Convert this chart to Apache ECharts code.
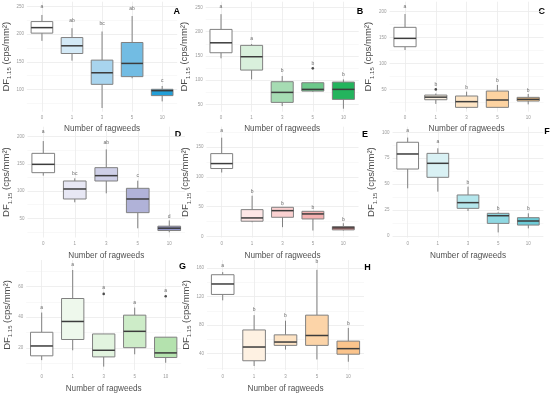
<!DOCTYPE html>
<html><head><meta charset="utf-8">
<script src="https://cdn.jsdelivr.net/npm/echarts@6/dist/echarts.min.js"></script>
<style>html,body{margin:0;padding:0;background:#fff}#c{width:550px;height:394px}</style>
</head><body><div id="c"></div>
<script>
// ---------- DATA ----------
const categories = ['0', '1', '3', '5', '10'];
const panelIds = ['A', 'B', 'C', 'D', 'E', 'F', 'G', 'H'];
// each box: [min, Q1, median, Q3, max]
const boxesA = [[188,202,212,223,235],[152,165,179,194,211],[66,109,130,153,205],[120,123,147,185,233],[78,88.5,97.5,100,106]];
const boxesB = [[145,156.5,177,204.6,236],[101.6,120.8,148.3,171.7,174.4],[46.6,54.2,74.8,96.8,108.4],[76.1,77.5,81,94.7,95.4],[41.2,60.4,81,96.1,101.6]];
const boxesC = [[126,132.4,148.5,169.8,195.5],[22,30,35,39,42],[13.4,15.3,26.3,37.2,45.6],[15.3,15.3,29.5,46.8,58.4],[21.1,27.5,30.8,34.6,41.1]];
const boxesD = [[128.4,133.9,149.2,169.4,192],[79.4,85.5,103.9,118.6,123.5],[95.9,118.6,128.4,143.1,176.7],[31.6,60.4,85.5,105.1,119.2],[24.3,27.5,31.8,35.5,46.1]];
const boxesE = [[107.2,113.9,122.2,138.9,165.6],[23.9,25.6,31.1,45,68.3],[15.6,32.2,43.3,48.9,48.9],[10,29.4,37.8,42.2,42.2],[10,11.1,14.4,16.7,22.2]];
const boxesF = [[46,64.6,79.1,90.4,94.9],[42.8,56.6,70.1,79.7,84.6],[24.1,26.7,32.2,39.6,47.6],[3.5,12.2,19.6,21.9,22.8],[7.4,10.6,14.5,17.7,21.9]];
const boxesG = [[12.1,14.9,21.3,30.2,43],[18.5,25.5,37.2,52.1,70.6],[7.9,14.2,18.5,29.1,29.1],[15.9,20.2,30.8,41.3,46.2],[10.4,13.8,16.8,27,27]];
const boxesH = [[114.8,123.1,137.8,150.8,154.5],[22.5,29.9,49.2,73.2,94],[45.6,51.5,56.2,66.3,86.2],[31.7,51.5,65.4,94,157.7],[28.5,39.1,46.9,57.5,76]];

const lettersA = ['a','ab','bc','ab','c'];
const lettersB = ['a','a','b','b','b'];
const lettersC = ['a','b','b','b','b'];
const lettersD = ['a','bc','ab','c','d'];
const lettersE = ['a','b','b','b','b'];
const lettersF = ['a','a','b','b','b'];
const lettersG = ['a','a','a','a','a'];
const lettersH = ['a','b','b','b','b'];

const letterYA = [250, 224.6, 219.8, 247, 115];
const letterYB = [251.4, 186, 118.8, 134.6, 110.5];
const letterYC = [209.7, 58.4, 53.9, 66.2, 46.8];
const letterYD = [209.2, 132.7, 189.6, 128.4, 53];
const letterYE = [177.8, 75.6, 55.6, 48.9, 27.8];
const letterYF = [101.6, 91, 51.8, 26, 26];
const letterYG = [46.2, 73.8, 58.9, 49.4, 57.2];
const letterYH = [163.7, 101.4, 93.1, 169.2, 82.5];

// outliers: [category index, value]
const outliersA = [];
const outliersB = [[3, 124.3]];
const outliersC = [[1, 50]];
const outliersD = [];
const outliersE = [];
const outliersF = [];
const outliersG = [[2, 55.1], [4, 53.6]];
const outliersH = [];

const ticksA = [100, 150, 200, 250];
const ticksB = [50, 100, 150, 200, 250];
const ticksC = [50, 100, 150, 200];
const ticksD = [50, 100, 150, 200];
const ticksE = [0, 50, 100, 150];
const ticksF = [0, 25, 50, 75, 100];
const ticksG = [20, 40, 60];
const ticksH = [40, 80, 120, 160];

// ---------- STYLE / LAYOUT ----------
const colorsA = ['#ffffff','#d3e9f6','#a8d4ee','#72bce3','#229fd8'];
const colorsB = ['#ffffff','#d9f0dc','#a6dcb3','#6dc98b','#23b45d'];
const colorsC = ['#ffffff','#fdf2e2','#fde4c4','#fdd3a1','#fbc88a'];
const colorsD = ['#ffffff','#e7e7f4','#cfd0e8','#b0b2d8','#9093c6'];
const colorsE = ['#ffffff','#fde6e6','#fbd1d1','#f5b1b1','#ec8f90'];
const colorsF = ['#ffffff','#d9f1f4','#b4e6ec','#8fd8e2','#6ccbd7'];
const colorsG = ['#ffffff','#eef8ec','#e2f4df','#cdecc8','#b4e2ae'];
const colorsH = ['#ffffff','#fef1e2','#fde3c4','#fcd4a8','#fbc48c'];

const layout = {
  A: {left: 25.5, width: 151.7, top: 1.7, height: 110, yMin: 59.3, yMax: 259.1, yGap: 14, xGap: 13, tag: [176.7, 11.7]},
  B: {left: 205.7, width: 153, top: 1.7, height: 110, yMin: 35, yMax: 261.7, yGap: 12.5, xGap: 13, tag: [360, 11.7]},
  C: {left: 389.6, width: 154, top: 1.7, height: 110, yMin: 6.9, yMax: 219.3, yGap: 8, xGap: 13, tag: [541.7, 11.7]},
  D: {left: 27.5, width: 157.5, top: 126.7, height: 110.8, yMin: 14.7, yMax: 218.4, yGap: 15, xGap: 14, tag: [178, 135]},
  E: {left: 206.5, width: 152, top: 126.7, height: 110.8, yMin: -1.7, yMax: 184, yGap: 13.5, xGap: 14, tag: [365, 135]},
  F: {left: 392.6, width: 150.8, top: 126.7, height: 110.8, yMin: -1.4, yMax: 105.4, yGap: 11, xGap: 14, tag: [547, 131.7]},
  G: {left: 26.2, width: 155, top: 260, height: 111.7, yMin: 5.7, yMax: 77.1, yGap: 14, xGap: 15, tag: [182.5, 266.7]},
  H: {left: 207, width: 157, top: 260, height: 111.7, yMin: 16.9, yMax: 171.5, yGap: 15, xGap: 15, tag: [367.5, 267.7]}
};

const DATA = {
  A: {boxes: boxesA, letters: lettersA, letterY: letterYA, outliers: outliersA, ticks: ticksA, colors: colorsA},
  B: {boxes: boxesB, letters: lettersB, letterY: letterYB, outliers: outliersB, ticks: ticksB, colors: colorsB},
  C: {boxes: boxesC, letters: lettersC, letterY: letterYC, outliers: outliersC, ticks: ticksC, colors: colorsC},
  D: {boxes: boxesD, letters: lettersD, letterY: letterYD, outliers: outliersD, ticks: ticksD, colors: colorsD},
  E: {boxes: boxesE, letters: lettersE, letterY: letterYE, outliers: outliersE, ticks: ticksE, colors: colorsE},
  F: {boxes: boxesF, letters: lettersF, letterY: letterYF, outliers: outliersF, ticks: ticksF, colors: colorsF},
  G: {boxes: boxesG, letters: lettersG, letterY: letterYG, outliers: outliersG, ticks: ticksG, colors: colorsG},
  H: {boxes: boxesH, letters: lettersH, letterY: letterYH, outliers: outliersH, ticks: ticksH, colors: colorsH}
};

const FONT = 'Liberation Sans, Arial, sans-serif';
const catIdx = categories.map((c, i) => i);

function minorTicks(ticks, mn, mx) {
  const step = ticks[1] - ticks[0];
  const out = [];
  for (let v = ticks[0] - step / 2; v <= mx; v += step) {
    if (v >= mn && v <= mx) out.push(v);
  }
  return out;
}

function boxRenderer(colors) {
  return function (params, api) {
    const i = api.value(0);
    const pMin = api.coord([i, api.value(1)]);
    const pQ1 = api.coord([i, api.value(2)]);
    const pMed = api.coord([i, api.value(3)]);
    const pQ3 = api.coord([i, api.value(4)]);
    const pMax = api.coord([i, api.value(5)]);
    const x = pMin[0];
    const hw = api.size([1, 0])[0] * 0.36;
    const stroke = '#808080';
    return {
      type: 'group',
      children: [
        {type: 'line', shape: {x1: x, y1: pMax[1], x2: x, y2: pQ3[1]}, style: {stroke: stroke, lineWidth: 1}},
        {type: 'line', shape: {x1: x, y1: pQ1[1], x2: x, y2: pMin[1]}, style: {stroke: stroke, lineWidth: 1}},
        {type: 'rect', shape: {x: x - hw, y: pQ3[1], width: 2 * hw, height: pQ1[1] - pQ3[1]},
          style: {fill: colors[params.dataIndex], stroke: stroke, lineWidth: 1}},
        {type: 'line', shape: {x1: x - hw, y1: pMed[1], x2: x + hw, y2: pMed[1]}, style: {stroke: '#3c3c3c', lineWidth: 1.5}}
      ]
    };
  };
}

const grids = [], xAxes = [], yAxes = [], series = [], graphics = [];
panelIds.forEach((id, g) => {
  const L = layout[id], D = DATA[id];
  grids.push({left: L.left, top: L.top, width: L.width, height: L.height, containLabel: false});
  xAxes.push({
    type: 'value', gridIndex: g, min: -0.5, max: 4.5,
    axisLine: {show: false},
    axisTick: {show: false, customValues: catIdx},
    axisLabel: {customValues: catIdx, formatter: v => categories[Math.round(v)], fontSize: 4.5, color: '#9a9a9a', margin: 4, fontFamily: FONT},
    splitLine: {show: true, lineStyle: {color: '#ebebeb', width: 0.8}},
    name: 'Number of ragweeds', nameLocation: 'middle', nameGap: L.xGap,
    nameTextStyle: {fontSize: 8.2, color: '#505050', fontFamily: FONT}
  });
  yAxes.push({
    type: 'value', gridIndex: g, min: L.yMin, max: L.yMax, position: 'left',
    axisLine: {show: false},
    axisTick: {show: false, customValues: D.ticks},
    axisLabel: {customValues: D.ticks, fontSize: 4.5, color: '#9a9a9a', margin: 3, fontFamily: FONT},
    splitLine: {show: true, lineStyle: {color: '#ebebeb', width: 0.8}},
    name: '{a|DF}{s|1.15}{a| (cps/mm²)}', nameLocation: 'middle', nameRotate: 90, nameGap: L.yGap,
    nameTextStyle: {
      color: '#4d4d4d', fontFamily: FONT,
      rich: {
        a: {fontSize: 9.5, color: '#4a4a4a', fontFamily: FONT, lineHeight: 12, verticalAlign: 'bottom'},
        s: {fontSize: 6, color: '#4a4a4a', fontFamily: FONT, lineHeight: 12, verticalAlign: 'bottom', padding: [0, 0, -1.5, 0]}
      }
    }
  });
  yAxes.push({
    type: 'value', gridIndex: g, min: L.yMin, max: L.yMax, position: 'right',
    axisLine: {show: false}, axisLabel: {show: false},
    axisTick: {show: false, customValues: minorTicks(D.ticks, L.yMin, L.yMax)},
    splitLine: {show: true, lineStyle: {color: '#f4f4f4', width: 0.6}}
  });
  const yMain = 2 * g;
  series.push({
    type: 'custom', xAxisIndex: g, yAxisIndex: yMain, z: 3,
    renderItem: boxRenderer(D.colors),
    encode: {x: 0, y: [1, 2, 3, 4, 5]},
    data: D.boxes.map((b, i) => [catIdx[i]].concat(b))
  });
  if (D.outliers.length) {
    series.push({
      type: 'scatter', xAxisIndex: g, yAxisIndex: yMain, z: 4,
      symbolSize: 2.6, itemStyle: {color: '#222'},
      data: D.outliers
    });
  }
  series.push({
    type: 'scatter', xAxisIndex: g, yAxisIndex: yMain, z: 5, symbolSize: 0,
    label: {show: true, position: 'inside', formatter: p => D.letters[p.dataIndex], fontSize: 5, color: '#444', fontFamily: FONT},
    data: D.letterY.map((v, i) => [catIdx[i], v])
  });
  graphics.push({
    type: 'text', x: L.tag[0], y: L.tag[1],
    style: {text: id, font: 'bold 9px ' + FONT, fill: '#000', textAlign: 'center', textVerticalAlign: 'middle'}
  });
});

const chart = echarts.init(document.getElementById('c'), null, {renderer: 'canvas'});
chart.setOption({
  animation: false,
  backgroundColor: '#ffffff',
  grid: grids, xAxis: xAxes, yAxis: yAxes, series: series, graphic: graphics
});
</script>
</body></html>
